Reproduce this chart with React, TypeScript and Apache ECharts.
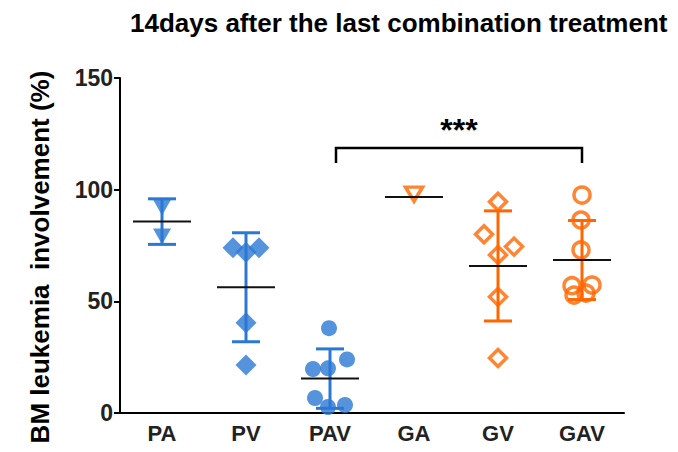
import React, { useEffect, useRef } from "react";
import * as echarts from "echarts";

const categories = ["PA", "PV", "PAV", "GA", "GV", "GAV"];
const yTicks = [0, 50, 100, 150];

const paValues = [92, 79];
const pvValues = [74, 74, 72, 40.4, 21.5];
const pavValues = [38, 24, 19.7, 20, 6.7, 2.7, 3.6];
const gaValues = [98];
const gvValues = [94.6, 80, 74.5, 70.8, 52, 24.6];
const gavValues = [97.6, 86.4, 73, 57, 57.3, 53.7, 52.8];

const groupMeans = [85.7, 56.3, 15.4, 96.7, 65.85, 68.5];
const groupSDs = [10.2, 24.4, 13.3, 0, 24.65, 17.7];

const significanceLabel = "***";
const significanceFrom = "PAV";
const significanceTo = "GAV";
const significanceLevel = 118.7;

const title = "14days after the last combination treatment";
const yAxisTitle = "BM leukemia  involvement (%)";

// horizontal jitter of points, in px (style)
const jitter = [
  [0, 0],
  [-13, 13, 0, 0, 0],
  [-1, 17, -17, -2, -15, -2, 15],
  [0],
  [0, -14, 16, 0, 0, 0],
  [0, -1, -1, -10, 10, 4, -8],
];

const BLUE = "#2a78d4";
const ORANGE = "#ff6600";
const FONT = "Liberation Sans, Arial, sans-serif";

export default function App() {
  const ref = useRef<HTMLDivElement>(null);
  useEffect(() => {
    if (!ref.current) return;
    const chart = echarts.init(ref.current, null, { renderer: "svg" });

    const groups = [
      { vals: paValues, symbol: "triangle", rotate: 180, size: [18, 16], hollow: false, color: BLUE },
      { vals: pvValues, symbol: "diamond", rotate: 0, size: 21, hollow: false, color: BLUE },
      { vals: pavValues, symbol: "circle", rotate: 0, size: 16, hollow: false, color: BLUE },
      { vals: gaValues, symbol: "triangle", rotate: 180, size: [17, 14], hollow: true, color: ORANGE },
      { vals: gvValues, symbol: "diamond", rotate: 0, size: 17, hollow: true, color: ORANGE },
      { vals: gavValues, symbol: "circle", rotate: 0, size: 16, hollow: true, color: ORANGE },
    ];

    const scatterSeries = groups.map((g, gi) => ({
      type: "scatter",
      z: 2,
      symbol: g.symbol,
      symbolRotate: g.rotate,
      symbolSize: g.size,
      itemStyle: g.hollow
        ? { color: "rgba(255,255,255,0)", borderColor: g.color, borderWidth: 3.5 }
        : { color: g.color },
      data: g.vals.map((v, i) => ({
        value: [categories[gi], v],
        symbolOffset: [jitter[gi][i] || 0, 0],
      })),
    }));

    const errorData = categories.map((c, i) => [i, groupMeans[i], groupSDs[i], i < 3 ? 0 : 1]);

    const errorSeries = {
      type: "custom",
      z: 3,
      data: errorData,
      renderItem: (params: any, api: any) => {
        const idx = api.value(0);
        const mean = api.value(1);
        const sd = api.value(2);
        const color = api.value(3) === 0 ? BLUE : ORANGE;
        const c = api.coord([idx, mean]);
        const children: any[] = [];
        if (sd > 0) {
          const top = api.coord([idx, mean + sd]);
          const bot = api.coord([idx, mean - sd]);
          const ls = { stroke: color, lineWidth: 3 };
          children.push({ type: "line", shape: { x1: top[0], y1: top[1], x2: bot[0], y2: bot[1] }, style: ls });
          children.push({ type: "line", shape: { x1: top[0] - 14, y1: top[1], x2: top[0] + 14, y2: top[1] }, style: ls });
          children.push({ type: "line", shape: { x1: bot[0] - 14, y1: bot[1], x2: bot[0] + 14, y2: bot[1] }, style: ls });
        }
        children.push({
          type: "line",
          z2: 10,
          shape: { x1: c[0] - 29, y1: c[1], x2: c[0] + 29, y2: c[1] },
          style: { stroke: "#111", lineWidth: 2 },
        });
        return { type: "group", children };
      },
    };

    const bracketSeries = {
      type: "custom",
      z: 4,
      data: [[categories.indexOf(significanceFrom), categories.indexOf(significanceTo), significanceLevel]],
      renderItem: (params: any, api: any) => {
        const a = api.coord([api.value(0), api.value(2)]);
        const b = api.coord([api.value(1), api.value(2)]);
        const x1 = a[0] + 6;
        const x2 = b[0];
        const y = a[1];
        const ls = { stroke: "#000", lineWidth: 2.5, fill: "none" };
        return {
          type: "group",
          children: [
            { type: "polyline", shape: { points: [[x1, y + 15], [x1, y], [x2, y], [x2, y + 15]] }, style: ls },
            {
              type: "text",
              x: (x1 + x2) / 2,
              y: y - 18,
              style: {
                text: significanceLabel,
                font: `bold 32px ${FONT}`,
                fill: "#000",
                textAlign: "center",
                textVerticalAlign: "middle",
              },
            },
          ],
        };
      },
    };

    chart.setOption({
      animation: false,
      backgroundColor: "#fff",
      title: {
        text: title,
        left: 125,
        top: 5,
        textStyle: { fontFamily: FONT, fontWeight: "bold", fontSize: 26, color: "#000" },
      },
      graphic: [
        {
          type: "text",
          x: 40,
          y: 257,
          rotation: Math.PI / 2,
          style: {
            text: yAxisTitle,
            font: `bold 26px ${FONT}`,
            fill: "#000",
            textAlign: "center",
            textVerticalAlign: "middle",
          },
        },
      ],
      grid: { left: 120, top: 78, width: 504, height: 335, containLabel: false },
      xAxis: {
        type: "category",
        data: categories,
        boundaryGap: true,
        axisLine: { lineStyle: { color: "#000", width: 2 } },
        axisTick: { alignWithLabel: true, length: 6, lineStyle: { color: "#000", width: 2 } },
        axisLabel: { fontFamily: FONT, fontWeight: "bold", fontSize: 22, color: "#222", margin: 9 },
      },
      yAxis: {
        type: "value",
        min: yTicks[0],
        max: yTicks[yTicks.length - 1],
        interval: yTicks[1] - yTicks[0],
        axisLine: { show: true, lineStyle: { color: "#000", width: 2 } },
        axisTick: { show: true, length: 6, lineStyle: { color: "#000", width: 2 } },
        splitLine: { show: false },
        axisLabel: { fontFamily: FONT, fontWeight: "bold", fontSize: 23, color: "#222", margin: 7 },
      },
      series: [...scatterSeries, errorSeries, bracketSeries],
    });

    return () => chart.dispose();
  }, []);

  return (
    <div
      ref={ref}
      style={{ position: "fixed", left: 0, top: 0, width: 678, height: 452, background: "#fff" }}
    />
  );
}
